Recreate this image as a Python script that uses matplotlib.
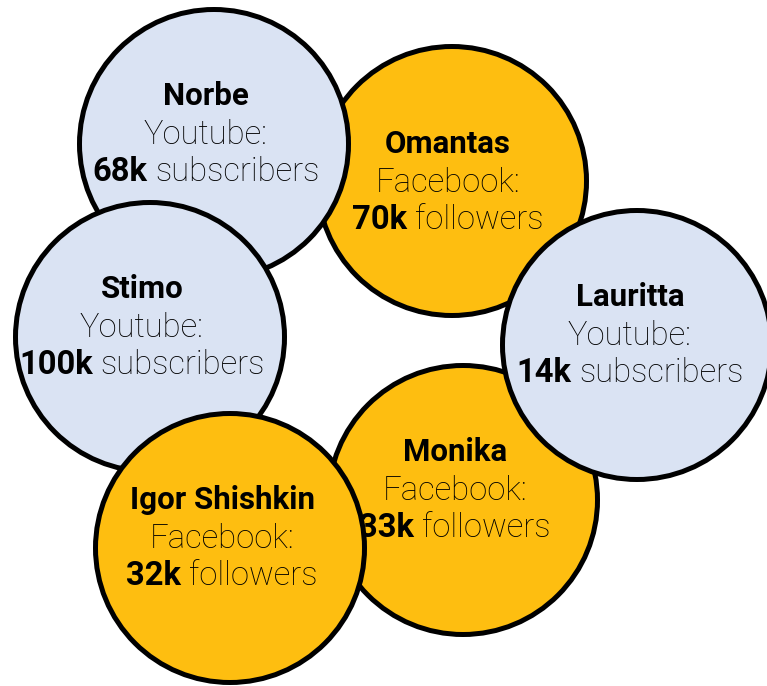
import matplotlib
matplotlib.use('Agg')
from matplotlib import pyplot as plt
from matplotlib.patches import Circle

# people, drawn in this order (later ones sit on top)
names = ['Omantas', 'Norbe', 'Stimo', 'Monika', 'Igor Shishkin', 'Lauritta']
platforms = ['Facebook', 'Youtube', 'Youtube', 'Facebook', 'Facebook', 'Youtube']
audience_k = [70, 68, 100, 33, 32, 14]
units = ['followers', 'subscribers', 'subscribers', 'followers', 'followers', 'subscribers']

# layout (pixels, y going down)
center_x = [452, 214, 150, 463, 230, 637]
center_y = [181, 144, 337, 500, 548, 345]
label_dx = [-4, -8, -8, -8, -8, -7]
label_dy = [11, 0, 0, 0, 0, 0]
radius = 134.5

colors = {'Facebook': '#FEBE10', 'Youtube': '#DAE3F3'}
font = 'Roboto'
size = 23.6
name_size = 22.5

fig = plt.figure(figsize=(7.67, 6.86), dpi=100)
ax = fig.add_axes([0, 0, 1, 1])
ax.set_xlim(0, 767)
ax.set_ylim(686, 0)
ax.axis('off')
renderer = fig.canvas.get_renderer()

for i, name in enumerate(names):
    cx, cy = center_x[i], center_y[i]
    z = 2 * i + 1
    ax.add_patch(Circle((cx, cy), radius, facecolor=colors[platforms[i]],
                        edgecolor='black', linewidth=3.6, zorder=z))
    tx = cx + label_dx[i]
    ty = cy + label_dy[i]
    ax.text(tx, ty - 39, name, ha='center', va='baseline', fontsize=name_size,
            family=font, weight='bold', zorder=z + 0.5)
    ax.text(tx, ty, platforms[i] + ':', ha='center', va='baseline', fontsize=size,
            family=font, weight='light', zorder=z + 0.5)
    # mixed bold / light last line, centred as one
    bold = ax.text(0, 0, f'{audience_k[i]}k', fontsize=size, family=font,
                   weight='bold', va='baseline', ha='left', zorder=z + 0.5)
    rest = ax.text(0, 0, units[i], fontsize=size, family=font,
                   weight='light', va='baseline', ha='left', zorder=z + 0.5)
    wb = bold.get_window_extent(renderer).width
    wr = rest.get_window_extent(renderer).width
    gap = 8
    left = tx - (wb + gap + wr) / 2
    bold.set_position((left, ty + 37))
    rest.set_position((left + wb + gap, ty + 37))

fig.savefig('out.png', dpi=100)
